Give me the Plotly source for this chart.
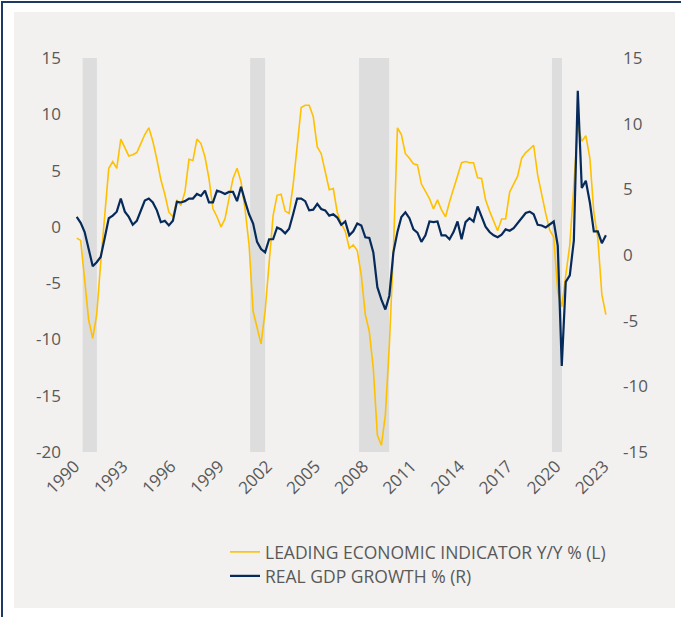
import pandas as pd
import plotly.graph_objects as go

# ---------------- data (quarterly, 1990Q1 .. 2023Q1) ----------------
lei = [-1.0, -1.2, -4.7, -8.3, -9.9, -7.8, -3.2, 1.2, 5.2, 5.8, 5.2, 7.8, 7.0, 6.3, 6.4, 6.6,
       7.4, 8.2, 8.8, 7.6, 6.0, 4.2, 2.9, 1.3, 0.9, 2.4, 1.9, 3.1, 6.0, 5.9, 7.8, 7.4,
       6.2, 4.3, 1.6, 0.9, 0.0, 0.7, 2.5, 4.3, 5.2, 4.0, 1.6, -1.6, -7.5, -9.0, -10.4, -7.5,
       -2.8, 1.0, 2.8, 2.9, 1.4, 1.2, 3.7, 7.0, 10.6, 10.8, 10.8, 9.8, 7.1, 6.5, 4.9, 3.3,
       3.4, 1.3, 0.3, -0.4, -1.9, -1.6, -2.1, -4.3, -7.8, -9.3, -12.6, -18.5, -19.4, -16.7, -10.5, -2.2,
       8.8, 8.2, 6.5, 6.1, 5.6, 5.5, 3.8, 3.1, 2.5, 1.6, 2.4, 1.5, 0.9, 2.2, 3.4, 4.5,
       5.7, 5.8, 5.7, 5.7, 4.35, 4.3, 2.4, 1.4, 0.45, -0.35, 0.7, 0.7, 3.1, 3.8, 4.5, 6.1,
       6.6, 6.9, 7.25, 4.6, 2.8, 1.2, -0.3, -0.9, -5.8, -7.1, -4.3, -1.6, 3.7, 9.0, 7.6, 8.1,
       6.1, 1.3, -1.0, -6.0, -7.8]
gdp = [2.9, 2.45, 1.75, 0.5, -0.85, -0.55, -0.15, 1.3, 2.8, 3.0, 3.3, 4.3, 3.3, 2.9, 2.3, 2.6,
       3.4, 4.15, 4.3, 4.0, 3.4, 2.5, 2.6, 2.25, 2.6, 4.05, 4.0, 4.1, 4.3, 4.3, 4.65, 4.5,
       4.9, 4.0, 4.0, 4.9, 4.8, 4.65, 4.8, 4.8, 4.1, 5.2, 4.1, 3.1, 2.4, 1.0, 0.45, 0.2,
       1.2, 1.2, 2.1, 1.95, 1.65, 2.0, 3.1, 4.3, 4.3, 4.1, 3.4, 3.45, 3.9, 3.5, 3.4, 3.0,
       3.1, 2.85, 2.3, 2.55, 1.5, 1.8, 2.4, 2.25, 1.35, 1.3, 0.2, -2.45, -3.4, -4.15, -3.1, 0.2,
       1.75, 2.9, 3.25, 2.8, 1.95, 1.7, 1.0, 1.5, 2.55, 2.5, 2.55, 1.5, 1.5, 1.2, 1.75, 2.55,
       1.2, 2.5, 2.8, 2.55, 3.7, 2.95, 2.15, 1.75, 1.5, 1.35, 1.55, 1.95, 1.85, 2.05, 2.45, 2.8,
       3.2, 3.3, 3.1, 2.3, 2.25, 2.1, 2.3, 2.55, 0.7, -8.45, -2.05, -1.55, 1.1, 12.5, 5.1, 5.65,
       4.0, 1.8, 1.8, 0.9, 1.5]
dates = pd.date_range("1990-01-01", periods=len(lei), freq="QS") + pd.Timedelta(days=45)

recessions = [("1990-07-01", "1991-05-20"), ("2000-12-10", "2001-11-15"),
              ("2007-09-25", "2009-08-10"), ("2019-10-05", "2020-05-20")]
tick_years = [1990, 1993, 1996, 1999, 2002, 2005, 2008, 2011, 2014, 2017, 2020, 2023]
left_ticks = [15, 10, 5, 0, -5, -10, -15, -20]
right_ticks = [15, 10, 5, 0, -5, -10, -15]

LEI_NAME = "LEADING ECONOMIC INDICATOR Y/Y % (L)"
GDP_NAME = "REAL GDP GROWTH % (R)"

# ---------------- styling ----------------
W, H = 681, 617
ML, MR, MT, MB = 62, 59, 58, 165
PW, PH = W - ML - MR, H - MT - MB
PANEL = "#f2f1ef"
BAND = "#dcdddc"
YELLOW = "#ffc000"
NAVY = "#062a5a"
TXT = "#595959"
FONT = "Open Sans, Noto Sans, sans-serif"


def px(x):
    return (x - ML) / PW


def py(y):
    return (H - MB - y) / PH


fig = go.Figure()
fig.add_trace(go.Scatter(x=dates, y=lei, name=LEI_NAME, mode="lines",
                         line=dict(color=YELLOW, width=1.6), yaxis="y", legend="legend"))
fig.add_trace(go.Scatter(x=dates, y=gdp, name=GDP_NAME, mode="lines",
                         line=dict(color=NAVY, width=2.2), yaxis="y2", legend="legend2"))

shapes = [
    dict(type="rect", xref="paper", yref="paper", x0=px(14), x1=px(675), y0=py(608), y1=py(12),
         fillcolor=PANEL, line=dict(width=0), layer="below"),
    dict(type="rect", xref="paper", yref="paper", x0=px(2), x1=px(W + 20), y0=py(H + 20), y1=py(2),
         fillcolor="rgba(0,0,0,0)", line=dict(color="#1f3864", width=2), layer="above"),
]
for a, b in recessions:
    shapes.append(dict(type="rect", xref="x", yref="y", x0=a, x1=b, y0=-20, y1=15.25,
                       fillcolor=BAND, line=dict(width=0), layer="below"))

leg_common = dict(xanchor="left", yanchor="top", bgcolor="rgba(0,0,0,0)",
                  font=dict(size=17.5, color=TXT), itemwidth=30)

fig.update_layout(
    width=W, height=H,
    margin=dict(l=ML, r=MR, t=MT, b=MB, autoexpand=False),
    paper_bgcolor="white", plot_bgcolor=PANEL,
    font=dict(family=FONT, color=TXT, size=17),
    shapes=shapes,
    showlegend=True,
    legend=dict(x=px(225), y=py(534), **leg_common),
    legend2=dict(x=px(225), y=py(558), **leg_common),
    xaxis=dict(type="date", range=["1989-03-17", "2024-02-17"],
               tickvals=[f"{y}-01-01" for y in tick_years],
               ticktext=[str(y) for y in tick_years],
               tickangle=-45, showgrid=False, zeroline=False, showline=False,
               tickfont=dict(size=17, color=TXT), ticks=""),
    yaxis=dict(range=[-20, 15], tickvals=left_ticks, ticktext=[str(v) for v in left_ticks],
               showgrid=False, zeroline=False,
               showline=False, ticks="", tickfont=dict(size=17, color=TXT)),
    yaxis2=dict(range=[-15, 15], tickvals=right_ticks, ticktext=[str(v) for v in right_ticks],
                overlaying="y", side="right",
                showgrid=False, zeroline=False, showline=False, ticks="",
                tickfont=dict(size=17, color=TXT)),
)

fig.write_html("out.html", config={"displayModeBar": False},
               post_script="document.body.style.margin='0';document.body.style.padding='0';")
